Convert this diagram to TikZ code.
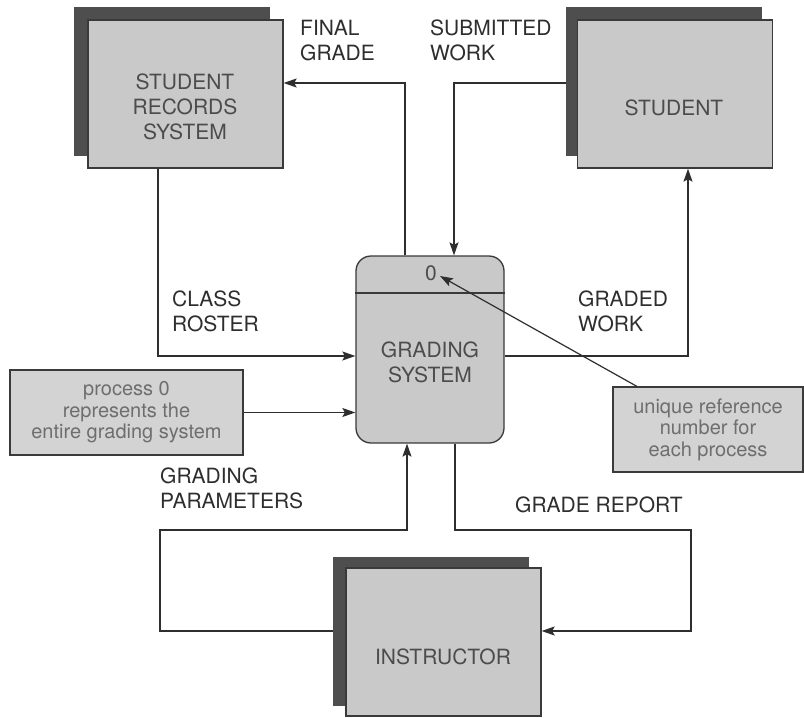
\documentclass[tikz,border=0pt]{standalone}
\usepackage{fontspec}
\setmainfont{TeX Gyre Heros}
\usetikzlibrary{arrows.meta}
\definecolor{frontfill}{HTML}{C9C9C9}
\definecolor{backfill}{HTML}{4E4E4E}
\definecolor{edgecol}{HTML}{3A3A3A}
\definecolor{labelcol}{HTML}{4C4C4C}
\definecolor{flowcol}{HTML}{2E2E2E}
\definecolor{notefill}{HTML}{D3D3D3}
\definecolor{notetext}{HTML}{6E6E6E}
\tikzset{
  entityback/.style={rectangle, draw=backfill, fill=backfill, minimum width=195pt, minimum height=148pt, inner sep=0pt},
  entityfront/.style={rectangle, draw=edgecol, line width=1.3pt, fill=frontfill, minimum width=195pt, minimum height=148pt, inner sep=0pt},
  entitytext/.style={text=labelcol, align=center, font=\fontsize{21}{25}\selectfont},
  processbox/.style={rectangle, rounded corners=15pt, draw=edgecol, line width=1.3pt, fill=frontfill, minimum width=148pt, minimum height=187pt, inner sep=0pt},
  flowtext/.style={text=flowcol, align=left, anchor=west, font=\fontsize{21}{25}\selectfont, inner sep=0pt},
  notebox/.style={rectangle, draw=edgecol, line width=1.1pt, fill=notefill, text=notetext, align=center, inner sep=0pt, font=\fontsize{20}{21.5}\selectfont},
  flow/.style={draw=flowcol, line width=1.2pt, -{Stealth[length=13pt,width=9pt,inset=2.5pt]}},
}
\begin{document}
\begin{tikzpicture}[x=1pt, y=-1pt]
\useasboundingbox[fill=white] (0,0) rectangle (804,718);

% external entities: dark back sheet with a light front sheet
\node[entityback]  (srsback) at (171.5,81) {};
\node[entityfront] (srs)     at (185.5,94) {};
\node[entitytext]  (srslabel) at (185,107) {STUDENT\\RECORDS\\SYSTEM};

\node[entityback]  (stback) at (663.5,81) {};
\node[entityfront] (st)     at (675,94) {};
\node[entitytext]  (stlabel) at (674,108) {STUDENT};

\node[entityback]  (inback) at (431,631) {};
\node[entityfront] (in)     at (443.5,642) {};
\node[entitytext]  (inlabel) at (443,657) {INSTRUCTOR};

% the process
\node[processbox] (gs) at (430,349.5) {};
\draw[edgecol, line width=1.3pt] (gs.west |- 0,293) -- (gs.east |- 0,293);
\node[entitytext] (zero) at (431,273) {0};
\node[entitytext] (gslabel) at (430,362) {GRADING\\SYSTEM};

% annotation boxes
\node[notebox, minimum width=233pt, minimum height=85pt] (note1) at (126.5,412.5)
  {process 0\\represents the\\entire grading system};
\node[notebox, minimum width=190pt, minimum height=85pt] (note2) at (708,429.5)
  {unique reference\\number for\\each process};

% data flow labels
\node[flowtext] (lfinal)  at (300,40.5) {FINAL\\GRADE};
\node[flowtext] (lsubm)   at (430,40.5) {SUBMITTED\\WORK};
\node[flowtext] (lroster) at (172,311) {CLASS\\ROSTER};
\node[flowtext] (lgraded) at (578,311) {GRADED\\WORK};
\node[flowtext] (lparam)  at (160,488.5) {GRADING\\PARAMETERS};
\node[flowtext] (lreport) at (515,505) {GRADE REPORT};

% bend points of the instructor loops
\coordinate (pbend) at (160,530);
\coordinate (rbend) at (691,530);
\coordinate (zerotip) at (440,276);

% data flows
\draw[flow] (gs.north -| 405,0) |- (srs.east |- 0,83);
\draw[flow] (stback.west |- 0,83) -| (gs.north -| 454,0);
\draw[flow] (srs.south -| 158,0) |- (gs.west |- 0,356);
\draw[flow] (gs.east |- 0,356) -| (st.south -| 688,0);
\draw[flow] (note1.east) -- (gs.west |- note1.east);
\draw[flow] (note2.north -| 637,0) -- (zerotip);
\draw[flow] (inback.west |- 0,631) -| (pbend) -| (gs.south -| 407,0);
\draw[flow] (gs.south -| 455,0) |- (rbend) |- (in.east |- 0,631);
\end{tikzpicture}
\end{document}
